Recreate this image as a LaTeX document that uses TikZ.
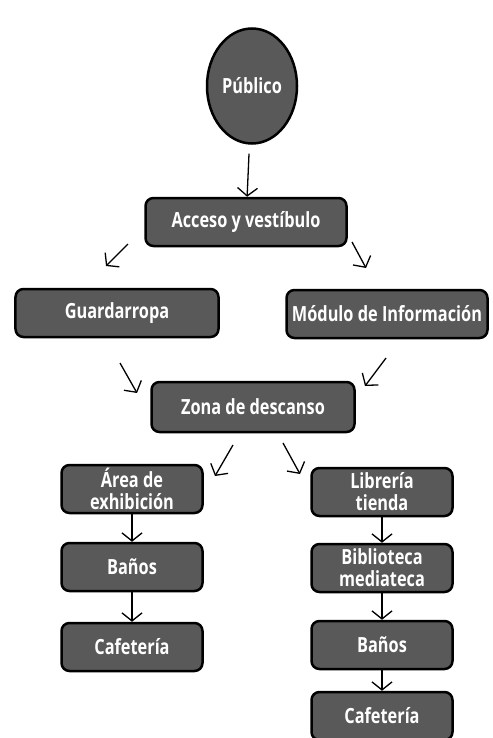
\documentclass[tikz,border=0pt]{standalone}
\usepackage{fontspec}
\newfontfamily\rotulo[FakeStretch=0.78]{Open Sans}
\usetikzlibrary{arrows.meta,shapes.geometric}

\tikzset{
	caja/.style={draw=black, line width=2.5bp, rounded corners=8bp, fill=black!65,
		text=white, font=\rotulo\bfseries\fontsize{21}{22}\selectfont,
		align=center, inner sep=0pt, minimum height=48bp},
	flecha/.style={line width=1.3bp, -{Straight Barb[length=8bp,width=20bp,line width=1.3bp]}}
}

\begin{document}
\begin{tikzpicture}[x=1bp, y=-1bp]
	\useasboundingbox (0,0) rectangle (493,738);

	\node[ellipse, draw=black, line width=2.5bp, fill=black!65, text=white,
		font=\rotulo\bfseries\fontsize{21}{22}\selectfont,
		minimum width=90bp, minimum height=115bp, inner sep=0pt] (P) at (252,86) {Público};
	\node[caja, minimum width=201bp] (A) at (246,222) {Acceso y vestíbulo};
	\node[caja, minimum width=203bp] (G) at (117,313) {Guardarropa};
	\node[caja, minimum width=201bp] (M) at (387,314) {Módulo de Información};
	\node[caja, minimum width=203bp, minimum height=50bp] (Z) at (253,407) {Zona de descanso};

	\node[caja, minimum width=141bp] (E) at (132,489) {Área de\\exhibición};
	\node[caja, minimum width=141bp] (B1) at (132,567) {Baños};
	\node[caja, minimum width=141bp] (C1) at (132,647) {Cafetería};

	\node[caja, minimum width=141bp] (L) at (382,492) {Librería\\tienda};
	\node[caja, minimum width=141bp] (BM) at (382,568) {Biblioteca\\mediateca};
	\node[caja, minimum width=141bp] (B2) at (382,645) {Baños};
	\node[caja, minimum width=141bp] (C2) at (382,716) {Cafetería};

	% flechas sueltas entre niveles
	\coordinate (ag1) at (128,244);  \coordinate (ag2) at (106,266);
	\coordinate (am1) at (352,242);  \coordinate (am2) at (366,268);
	\coordinate (gz1) at (120,363);  \coordinate (gz2) at (137,393);
	\coordinate (mz1) at (386,358);  \coordinate (mz2) at (365,386);
	\coordinate (ze1) at (233,445);  \coordinate (ze2) at (215,476);
	\coordinate (zl1) at (283,443);  \coordinate (zl2) at (300,474);

	\draw[flecha, shorten <=9bp] (P) -- (A);
	\draw[flecha] (ag1) -- (ag2);
	\draw[flecha] (am1) -- (am2);
	\draw[flecha] (gz1) -- (gz2);
	\draw[flecha] (mz1) -- (mz2);
	\draw[flecha] (ze1) -- (ze2);
	\draw[flecha] (zl1) -- (zl2);

	\draw[flecha] (E) -- (B1);
	\draw[flecha] (B1) -- (C1);
	\draw[flecha] (L) -- (BM);
	\draw[flecha] (BM) -- (B2);
	\draw[flecha] (B2) -- (C2);
\end{tikzpicture}
\end{document}
